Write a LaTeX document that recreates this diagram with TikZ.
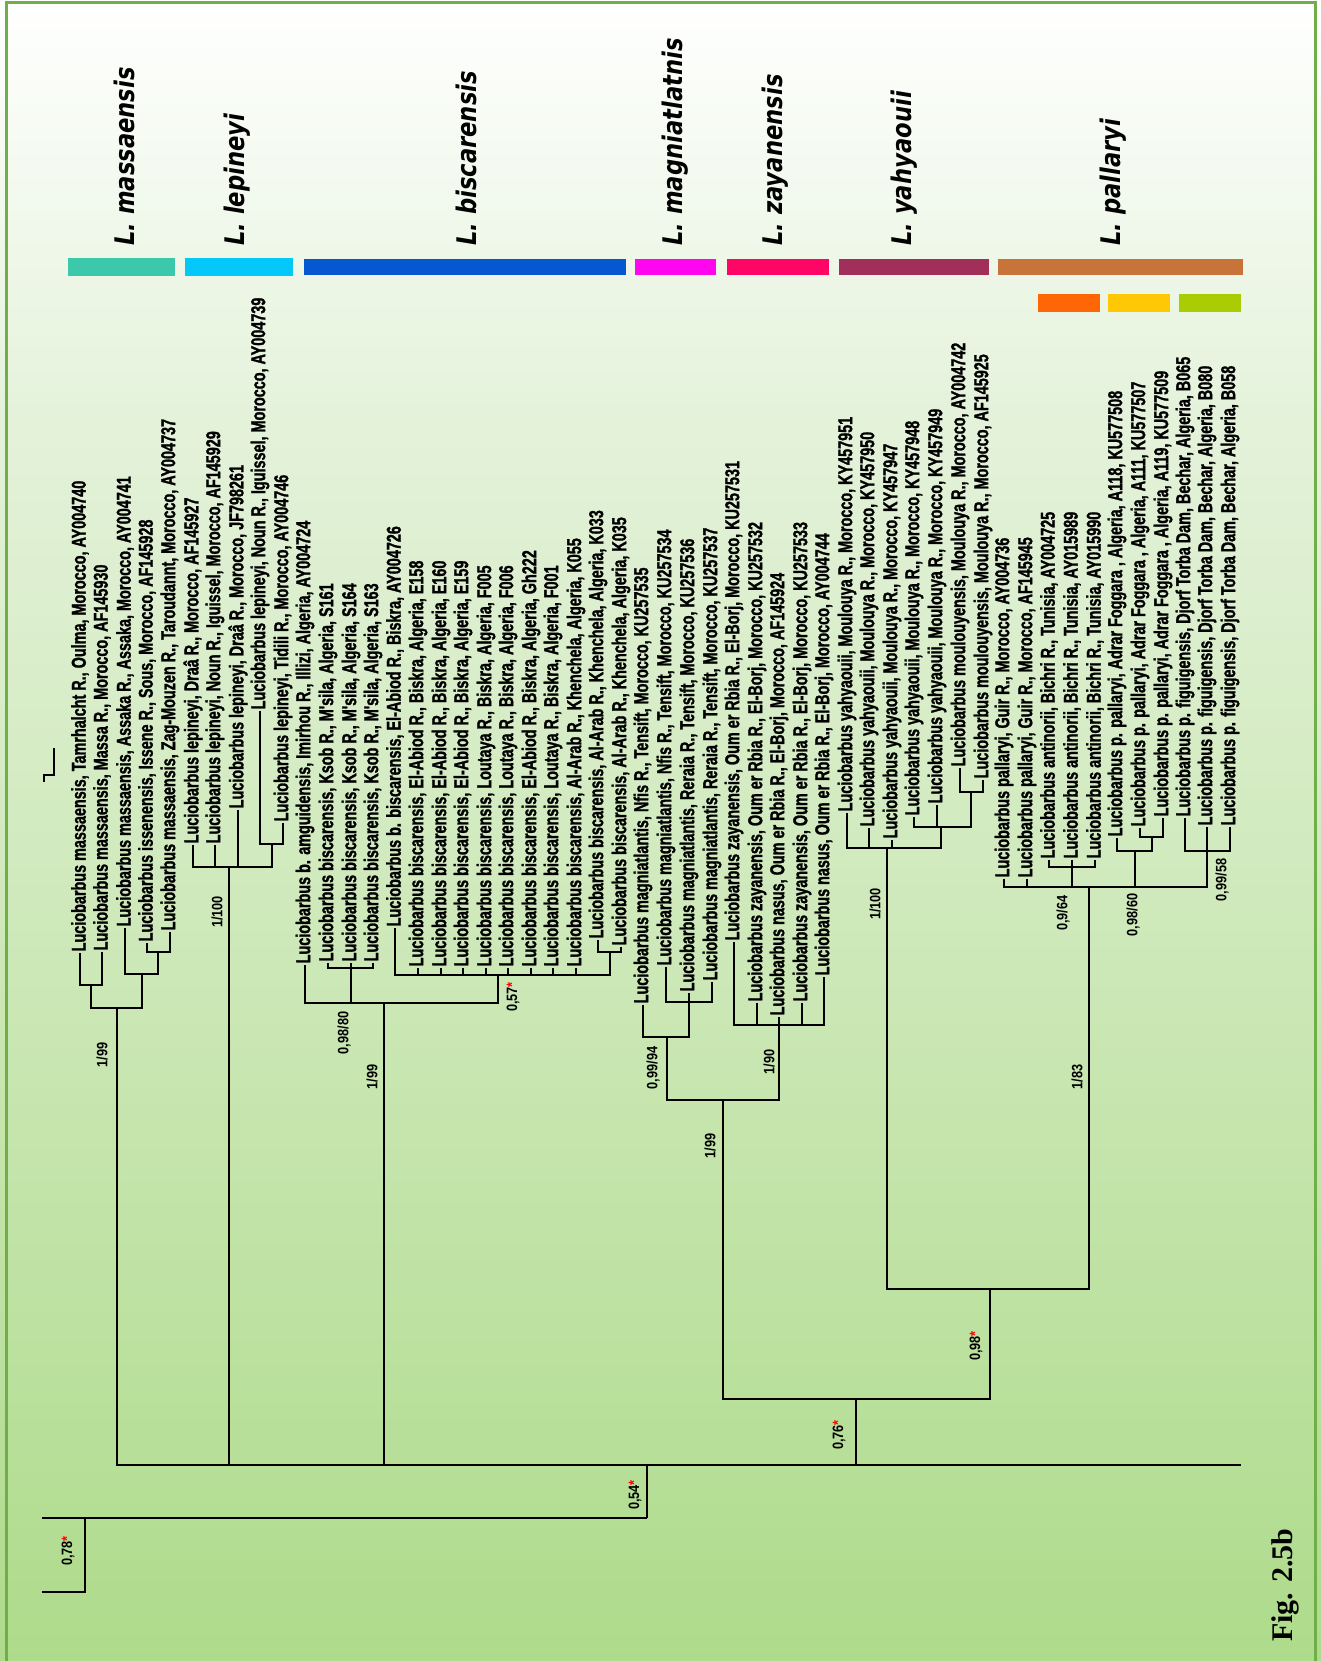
\documentclass[tikz,border=0pt]{standalone}
\usepackage{fontspec}
\newfontfamily\leaffam[FakeStretch=0.72,FakeBold=1.3]{Liberation Sans}
\newfontfamily\suppfam[FakeStretch=0.85]{Liberation Sans}
\newfontfamily\headfam[FakeStretch=0.84]{DejaVu Sans}
\newfontfamily\figfam{Liberation Serif}
\definecolor{bgtop}{HTML}{FFFFFF}
\definecolor{bgmid}{HTML}{E4F2DA}
\definecolor{bgbot}{HTML}{AEDB8B}
\definecolor{frame}{HTML}{6FAE48}
\definecolor{cmas}{HTML}{3CC8AA}
\definecolor{clep}{HTML}{05C8FA}
\definecolor{cbis}{HTML}{0558D0}
\definecolor{cmag}{HTML}{FF05F0}
\definecolor{czay}{HTML}{FF0566}
\definecolor{cyah}{HTML}{A0305A}
\definecolor{cpal}{HTML}{C8733A}
\definecolor{cpa1}{HTML}{FF6605}
\definecolor{cpa2}{HTML}{FFC805}
\definecolor{cpa3}{HTML}{AACC05}
\begin{document}
\begin{tikzpicture}[x=1pt,y=-1pt,
  leaf/.style={rotate=90,anchor=west,inner sep=1.5pt,font=\leaffam\bfseries\fontsize{20}{20}\selectfont},
  supp/.style={rotate=90,inner sep=0pt,font=\suppfam\bfseries\fontsize{15}{15}\selectfont},
  head/.style={rotate=90,anchor=west,inner sep=0pt,font=\headfam\bfseries\itshape\fontsize{27}{27}\selectfont},
  br/.style={line width=2.6pt}]
\useasboundingbox (0,0) rectangle (1321,1661);
% background
\shade[top color=bgtop,bottom color=bgmid] (0,0) rectangle (1321,420);
\shade[top color=bgmid,bottom color=bgbot] (0,420) rectangle (1321,1661);
\draw[frame,line width=3pt] (6,1661) -- (6,3) -- (1315,3) -- (1315,1661);

% clade bars and names
\fill[cmas] (68,258) rectangle (175,276);
\fill[clep] (185,258) rectangle (293,276);
\fill[cbis] (304,259) rectangle (626,275);
\fill[cmag] (635,259) rectangle (716,275);
\fill[czay] (727,259) rectangle (829,275);
\fill[cyah] (839,259) rectangle (989,275);
\fill[cpal] (998,259) rectangle (1243,275);
\fill[cpa1] (1038,294) rectangle (1100,312);
\fill[cpa2] (1108,294) rectangle (1170,312);
\fill[cpa3] (1179,294) rectangle (1241,312);
\node[head] (hMas) at (124,246) {L. massaensis};
\node[head] (hLep) at (237,246) {L. lepineyi};
\node[head] (hBis) at (466,246) {L. biscarensis};
\node[head] (hMag) at (675,246) {L. magniatlatnis};
\node[head] (hZay) at (775,246) {L. zayanensis};
\node[head] (hYah) at (904,246) {L. yahyaouii};
\node[head] (hPal) at (1113,246) {L. pallaryi};

% leaves
\node[leaf] (l1) at (80,953) {Luciobarbus massaensis, Tamrhalcht R., Oulma, Morocco, AY004740};
\node[leaf] (l2) at (102,952) {Luciobarbus massaensis, Massa R., Morocco, AF145930};
\node[leaf] (l3) at (125,928) {Luciobarbus massaensis, Assaka R., Assaka, Morocco, AY004741};
\node[leaf] (l4) at (147,943) {Luciobarbus issenensis, Issene R., Sous, Morocco, AF145928};
\node[leaf] (l5) at (170,932) {Luciobarbus massaensis, Zag-Mouzen R., Taroudannt, Morocco, AY004737};
\node[leaf] (l6) at (193,845) {Luciobarbus lepineyi, Draâ R., Morocco, AF145927};
\node[leaf] (l7) at (215,845) {Luciobarbus lepineyi, Noun R., Iguissel, Morocco, AF145929};
\node[leaf] (l8) at (238,810) {Luciobarbus lepineyi, Draâ R., Morocco, JF798261};
\node[leaf] (l9) at (260,711) {Luciobarbus lepineyi, Noun R., Iguissel, Morocco, AY004739};
\node[leaf] (l10) at (283,823) {Luciobarbus lepineyi, Tidili R., Morocco, AY004746};
\node[leaf] (l11) at (305,965) {Luciobarbus b. amguidensis, Imirhou R., Illizi, Algeria, AY004724};
\node[leaf] (l12) at (328,963) {Luciobarbus biscarensis, Ksob R., M'sila, Algeria, S161};
\node[leaf] (l13) at (351,963) {Luciobarbus biscarensis, Ksob R., M'sila, Algeria, S164};
\node[leaf] (l14) at (373,963) {Luciobarbus biscarensis, Ksob R., M'sila, Algeria, S163};
\node[leaf] (l15) at (395,928) {Luciobarbus b. biscarensis, El-Abiod R., Biskra, AY004726};
\node[leaf] (l16) at (418,968) {Luciobarbus biscarensis, El-Abiod R., Biskra, Algeria, E158};
\node[leaf] (l17) at (441,968) {Luciobarbus biscarensis, El-Abiod R., Biskra, Algeria, E160};
\node[leaf] (l18) at (463,968) {Luciobarbus biscarensis, El-Abiod R., Biskra, Algeria, E159};
\node[leaf] (l19) at (486,968) {Luciobarbus biscarensis, Loutaya R., Biskra, Algeria, F005};
\node[leaf] (l20) at (508,968) {Luciobarbus biscarensis, Loutaya R., Biskra, Algeria, F006};
\node[leaf] (l21) at (531,968) {Luciobarbus biscarensis, El-Abiod R., Biskra, Algeria, Gh222};
\node[leaf] (l22) at (553,968) {Luciobarbus biscarensis, Loutaya R., Biskra, Algeria, F001};
\node[leaf] (l23) at (576,968) {Luciobarbus biscarensis, Al-Arab R., Khenchela, Algeria, K055};
\node[leaf] (l24) at (598,940) {Luciobarbus biscarensis, Al-Arab R., Khenchela, Algeria, K033};
\node[leaf] (l25) at (621,947) {Luciobarbus biscarensis, Al-Arab R., Khenchela, Algeria, K035};
\node[leaf] (l26) at (643,1005) {Luciobarbus magniatlantis, Nfis R., Tensift, Morocco, KU257535};
\node[leaf] (l27) at (666,967) {Luciobarbus magniatlantis, Nfis R., Tensift, Morocco, KU257534};
\node[leaf] (l28) at (689,993) {Luciobarbus magniatlantis, Reraia R., Tensift, Morocco, KU257536};
\node[leaf] (l29) at (712,982) {Luciobarbus magniatlantis, Reraia R., Tensift, Morocco, KU257537};
\node[leaf] (l30) at (734,942) {Luciobarbus zayanensis, Oum er Rbia R., El-Borj, Morocco, KU257531};
\node[leaf] (l31) at (757,1003) {Luciobarbus zayanensis, Oum er Rbia R., El-Borj, Morocco, KU257532};
\node[leaf] (l32) at (779,1017) {Luciobarbus nasus, Oum er Rbia R., El-Borj, Morocco, AF145924};
\node[leaf] (l33) at (802,1003) {Luciobarbus zayanensis, Oum er Rbia R., El-Borj, Morocco, KU257533};
\node[leaf] (l34) at (824,977) {Luciobarbus nasus, Oum er Rbia R., El-Borj, Morocco, AY004744};
\node[leaf] (l35) at (847,813) {Luciobarbus yahyaouii, Moulouya R., Morocco, KY457951};
\node[leaf] (l36) at (869,828) {Luciobarbus yahyaouii, Moulouya R., Morocco, KY457950};
\node[leaf] (l37) at (892,840) {Luciobarbus yahyaouii, Moulouya R., Morocco, KY457947};
\node[leaf] (l38) at (914,817) {Luciobarbus yahyaouii, Moulouya R., Morocco, KY457948};
\node[leaf] (l39) at (937,805) {Luciobarbus yahyaouii, Moulouya R., Morocco, KY457949};
\node[leaf] (l40) at (960,768) {Luciobarbus moulouyensis, Moulouya R., Morocco, AY004742};
\node[leaf] (l41) at (983,780) {Luciobarbus moulouyensis, Moulouya R., Morocco, AF145925};
\node[leaf] (l42) at (1004,879) {Luciobarbus pallaryi, Guir R., Morocco, AY004736};
\node[leaf] (l43) at (1027,879) {Luciobarbus pallaryi, Guir R., Morocco, AF145945};
\node[leaf] (l44) at (1049,860) {Luciobarbus antinorii, Bichri R., Tunisia, AY004725};
\node[leaf] (l45) at (1072,860) {Luciobarbus antinorii, Bichri R., Tunisia, AY015989};
\node[leaf] (l46) at (1095,860) {Luciobarbus antinorii, Bichri R., Tunisia, AY015990};
\node[leaf] (l47) at (1117,838) {Luciobarbus p. pallaryi, Adrar Foggara , Algeria, A118, KU577508};
\node[leaf] (l48) at (1140,828) {Luciobarbus p. pallaryi, Adrar Foggara , Algeria, A111, KU577507};
\node[leaf] (l49) at (1163,818) {Luciobarbus p. pallaryi, Adrar Foggara , Algeria, A119, KU577509};
\node[leaf] (l50) at (1185,818) {Luciobarbus p. figuigensis, Djorf Torba Dam, Bechar, Algeria, B065};
\node[leaf] (l51) at (1207,827) {Luciobarbus p. figuigensis, Djorf Torba Dam, Bechar, Algeria, B080};
\node[leaf] (l52) at (1230,827) {Luciobarbus p. figuigensis, Djorf Torba Dam, Bechar, Algeria, B058};

% inner nodes
\coordinate (nMa1) at (91,985);
\coordinate (nMa2) at (158,952);
\coordinate (nMa3) at (142,974);
\coordinate (nMa) at (117,1008);
\coordinate (nLe2) at (272,844);
\coordinate (nLe) at (229,867);
\coordinate (nBi1) at (351,968);
\coordinate (nBi3) at (610,952);
\coordinate (nBi2) at (498,975);
\coordinate (nBi) at (384,1003);
\coordinate (nMg1) at (689,1002);
\coordinate (nMg) at (667,1037);
\coordinate (nZa) at (779,1025);
\coordinate (nMZ) at (723,1100);
\coordinate (nYa2) at (971,792);
\coordinate (nYa1) at (941,827);
\coordinate (nYa) at (887,848);
\coordinate (nPaA) at (1072,867);
\coordinate (nPaP2) at (1152,837);
\coordinate (nPaP) at (1135,851);
\coordinate (nPaF) at (1207,851);
\coordinate (nPa) at (1089,887);
\coordinate (nYP) at (990,1289);
\coordinate (n076) at (856,1399);
\coordinate (nMain) at (647,1465);
\coordinate (nEnd) at (1241,1465);
\coordinate (n054) at (647,1518);
\coordinate (nOut) at (42,1518);
\coordinate (n078) at (85,1518);
\coordinate (nOut2) at (42,1592);
\coordinate (og1) at (54,748);
\coordinate (og2) at (44,775);
\coordinate (og3) at (44,782);

% branches
\draw[br] (nMa1) -| (l1.west) (nMa1) -| (l2.west);
\draw[br] (nMa2) -| (l4.west) (nMa2) -| (l5.west);
\draw[br] (nMa3) -| (l3.west) (nMa3) -| (nMa2);
\draw[br] (nMa) -| (nMa1) (nMa) -| (nMa3);
\draw[br] (nLe2) -| (l9.west) (nLe2) -| (l10.west);
\draw[br] (nLe) -| (l6.west) (nLe) -| (l7.west) (nLe) -| (l8.west) (nLe) -| (nLe2);
\draw[br] (nBi1) -| (l12.west) (nBi1) -- (l13.west) (nBi1) -| (l14.west);
\draw[br] (nBi3) -| (l24.west) (nBi3) -| (l25.west);
\foreach \c in {l15,l16,l17,l18,l19,l20,l21,l22,l23}
  \draw[br] (nBi2) -| (\c.west);
\draw[br] (nBi2) -| (nBi3);
\draw[br] (nBi) -| (l11.west) (nBi) -| (nBi1) (nBi) -| (nBi2);
\draw[br] (nMg1) -| (l27.west) (nMg1) -- (l28.west) (nMg1) -| (l29.west);
\draw[br] (nMg) -| (l26.west) (nMg) -| (nMg1);
\foreach \c in {l30,l31,l32,l33,l34}
  \draw[br] (nZa) -| (\c.west);
\draw[br] (nMZ) -| (nMg) (nMZ) -| (nZa);
\draw[br] (nYa2) -| (l40.west) (nYa2) -| (l41.west);
\draw[br] (nYa1) -| (l38.west) (nYa1) -| (l39.west) (nYa1) -| (nYa2);
\draw[br] (nYa) -| (l35.west) (nYa) -| (l36.west) (nYa) -| (l37.west) (nYa) -| (nYa1);
\draw[br] (nPaA) -| (l44.west) (nPaA) -- (l45.west) (nPaA) -| (l46.west);
\draw[br] (nPaP2) -| (l48.west) (nPaP2) -| (l49.west);
\draw[br] (nPaP) -| (l47.west) (nPaP) -| (nPaP2);
\draw[br] (nPaF) -| (l50.west) (nPaF) -- (l51.west) (nPaF) -| (l52.west);
\draw[br] (nPa) -| (l42.west) (nPa) -| (l43.west) (nPa) -| (nPaA) (nPa) -| (nPaP) (nPa) -| (nPaF);
\draw[br] (nYP) -| (nYa) (nYP) -| (nPa);
\draw[br] (n076) -| (nMZ) (n076) -| (nYP);
\draw[br] (nMain) -| (nMa) (nMain) -| (nLe) (nMain) -| (nBi) (nMain) -| (n076) (nMain) -- (nEnd);
\draw[br] (n054) -- (nMain) (n054) -- (nOut);
\draw[br] (n078) |- (nOut2);
\draw[br] (og1) |- (og2) -- (og3);

% support values
\node[supp] (s1) at (102,1055) {1/99};
\node[supp] (s2) at (217,912) {1/100};
\node[supp] (s3) at (344,1033) {0,98/80};
\node[supp] (s4) at (372,1077) {1/99};
\node[supp] (s5) at (513,997) {0,57\textcolor{red}{*}};
\node[supp] (s6) at (653,1068) {0,99/94};
\node[supp] (s7) at (769,1062) {1/90};
\node[supp] (s8) at (710,1146) {1/99};
\node[supp] (s9) at (875,904) {1/100};
\node[supp] (s10) at (1063,913) {0,9/64};
\node[supp] (s11) at (1133,915) {0,98/60};
\node[supp] (s12) at (1222,880) {0,99/58};
\node[supp] (s13) at (1077,1077) {1/83};
\node[supp] (s14) at (976,1346) {0,98\textcolor{red}{*}};
\node[supp] (s15) at (839,1435) {0,76\textcolor{red}{*}};
\node[supp] (s16) at (635,1495) {0,54\textcolor{red}{*}};
\node[supp] (s17) at (68,1551) {0,78\textcolor{red}{*}};

\node[rotate=90,font=\figfam\bfseries\fontsize{30}{30}\selectfont] (fig) at (1285,1585) {Fig. 2.5b};
\end{tikzpicture}
\end{document}
